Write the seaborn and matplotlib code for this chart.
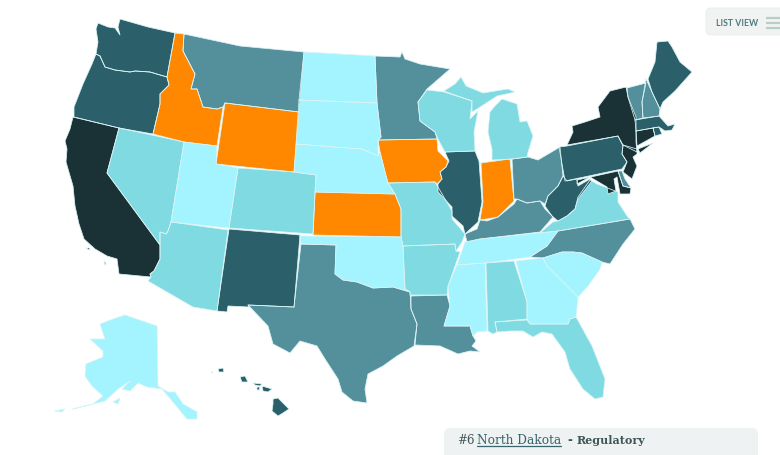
import matplotlib
matplotlib.use("Agg")
import matplotlib.pyplot as plt
from matplotlib.patches import FancyBboxPatch
import pandas as pd
import seaborn as sns

# State outlines (map units)
WA = [(98,24),(108,28),(115,29),(120,36),(118,28),(120,20),(148,28),(175,34),(167,78),(150,73),(135,72),(130,73),(115,71),(105,68),(100,57),(96,55),(98,43),(96,30)]
OR = [(100,57),(105,68),(115,71),(130,73),(135,72),(150,73),(167,78),(169,86),(160,95),(160,105),(153,135),(119,129),(74,118),(74,108),(83,85),(92,65),(96,55)]
CA = [(73,118),(119,129),(107,174),(160,246),(160,260),(154,272),(150,275),(151,278),(119,275),(117,260),(107,257),(95,250),(84,240),(79,225),(75,207),(73,187),(66,163),(67,150),(65,142),(70,130)]
CA_ISLE_A = [(86,249),(90,249),(89,251)]
CA_ISLE_B = [(104,262),(106,264),(105,266)]
NV = [(119,129),(184,143),(171,223),(168,232),(166,235),(160,233),(160,246),(107,174)]
ID = [(175,34),(184,35),(183,52),(195,75),(191,90),(197,90),(203,108),(217,110),(223,108),(217,147),(184,143),(153,135),(160,105),(160,95),(169,86),(167,78)]
MT = [(184,35),(240,47),(304,53),(299,113),(225,104),(223,108),(217,110),(203,108),(197,90),(191,90),(195,75),(183,52)]
WY = [(225,104),(299,113),(294,173),(216,165)]
UT = [(184,143),(217,147),(216,165),(238,169),(229,229),(171,223)]
CO = [(238,169),(294,173),(316,176),(313,235),(229,229)]
AZ = [(171,223),(228,231),(217,312),(193,308),(148,282),(151,278),(150,275),(154,272),(160,260),(160,246),(160,233),(166,235),(168,232)]
NM = [(229,230),(300,236),(294,308),(248,306),(249,308),(228,307),(227,313),(217,312)]
ND = [(304,53),(375,57),(377,104),(299,101)]
SD = [(299,101),(377,104),(381,138),(378,141),(378,157),(362,150),(296,145)]
NE = [(296,145),(362,150),(378,157),(380,153),(385,173),(388,184),(395,195),(315,193),(316,176),(294,173)]
KS = [(315,193),(395,195),(401,210),(401,238),(313,236)]
OK = [(300,237),(401,238),(403,247),(405,290),(410,293),(393,288),(373,289),(357,283),(343,281),(335,275),(336,246),(301,245)]
TX = [(301,245),(336,246),(335,275),(343,281),(357,283),(373,289),(393,288),(410,293),(411,310),(417,325),(414,347),(397,357),(383,367),(368,375),(365,390),(367,404),(353,402),(342,393),(338,380),(325,360),(317,347),(300,342),(290,354),(273,345),(268,327),(248,306),(294,308)]
MN = [(375,57),(400,58),(402,53),(405,60),(420,65),(450,70),(427,90),(418,103),(420,122),(435,133),(437,140),(378,141),(381,138),(377,104)]
IA = [(378,141),(437,140),(438,152),(448,162),(446,168),(440,173),(442,180),(437,185),(435,183),(388,184),(385,173),(380,153)]
MO = [(388,184),(435,183),(438,188),(452,212),(452,220),(465,235),(462,243),(456,252),(455,245),(403,247),(401,238),(401,210),(395,195)]
AR = [(403,247),(455,245),(456,252),(460,253),(455,267),(448,287),(447,296),(410,296),(410,293),(405,290)]
LA = [(411,297),(447,296),(450,307),(444,327),(470,327),(473,337),(476,342),(472,347),(480,353),(470,352),(458,355),(440,347),(415,346),(417,325),(411,310)]
WI = [(418,103),(427,91),(444,93),(472,102),(470,120),(478,112),(474,133),(475,152),(445,153),(438,140),(435,133),(420,122)]
IL = [(445,153),(475,152),(479,162),(482,203),(478,223),(465,235),(463,227),(452,217),(452,208),(438,193),(438,185),(442,180),(440,173),(446,168),(449,162)]
IN = [(481,164),(510,160),(514,202),(498,218),(487,220),(480,221),(483,203)]
MI_LOWER = [(488,133),(490,113),(495,107),(502,100),(517,105),(520,123),(527,122),(533,137),(528,153),(527,158),(512,160),(492,161),(492,150)]
MI_UPPER = [(444,92),(455,85),(461,78),(466,87),(483,94),(508,90),(515,93),(497,97),(477,110),(472,113),(472,102)]
OH = [(512,160),(528,158),(538,161),(560,148),(563,177),(558,187),(548,197),(545,205),(540,202),(527,204),(517,200),(514,200)]
KY = [(467,243),(465,235),(477,230),(480,221),(487,222),(498,218),(514,205),(517,200),(527,204),(540,202),(545,210),(553,218),(540,233),(480,240)]
TN = [(465,243),(480,240),(558,232),(547,247),(530,258),(485,264),(457,266),(462,252)]
MS = [(457,266),(485,264),(487,332),(477,333),(473,337),(470,327),(444,327),(450,307),(448,287)]
AL = [(486,264),(514,262),(527,303),(527,320),(495,323),(497,333),(493,335),(488,332)]
GA = [(516,262),(543,259),(547,267),(578,298),(576,318),(570,320),(568,325),(530,325),(527,320),(527,303)]
FL = [(495,323),(527,321),(530,325),(568,325),(570,320),(576,318),(592,347),(605,380),(603,398),(595,400),(583,390),(570,370),(565,353),(552,335),(542,333),(533,338),(523,332),(510,332),(497,333)]
SC = [(543,259),(562,253),(573,253),(582,254),(602,263),(600,270),(588,287),(578,298),(547,267)]
NC = [(530,258),(547,247),(558,232),(630,220),(635,230),(623,245),(610,265),(602,263),(582,254),(573,253),(562,253),(543,259)]
VA = [(540,234),(553,223),(558,222),(567,217),(575,210),(578,198),(590,181),(597,185),(618,193),(618,203),(627,217),(630,220),(558,232)]
WV = [(563,177),(567,182),(577,180),(578,187),(590,180),(592,182),(578,200),(575,210),(567,217),(558,222),(552,217),(545,207),(548,197),(558,187)]
PA = [(559,148),(567,147),(618,137),(623,147),(622,155),(627,163),(622,170),(565,182)]
NY = [(626,88),(628,98),(636,118),(636,143),(637,153),(623,146),(618,137),(567,146),(573,133),(572,127),(585,123),(600,118),(598,108),(610,92)]
NY_LI = [(638,150),(653,144),(640,154)]
NJ = [(623,146),(637,150),(637,155),(633,158),(637,167),(632,180),(623,173),(627,163),(622,155)]
MD = [(577,181),(618,172),(623,187),(631,189),(630,195),(620,195),(617,178),(614,180),(616,192),(608,195),(607,188),(590,178),(577,185)]
DE = [(618,172),(622,172),(625,180),(631,189),(623,187)]
CT = [(636,132),(653,129),(655,137),(637,147)]
RI = [(653,129),(659,128),(662,135),(655,137)]
MA = [(635,121),(659,117),(668,127),(675,125),(672,131),(665,132),(659,128),(653,129),(636,132)]
VT = [(627,89),(646,84),(642,103),(643,119),(635,121),(628,98)]
NH = [(646,80),(652,93),(660,110),(659,117),(643,119),(642,103)]
ME = [(657,43),(668,42),(672,48),(680,63),(692,73),(675,92),(663,103),(660,110),(652,93),(648,80),(655,63)]
AK = [(125,316),(157,327),(158,387),(168,393),(175,393),(183,405),(197,413),(197,420),(187,420),(173,403),(162,390),(147,388),(138,384),(130,392),(122,390),(130,382),(118,390),(105,402),(73,410),(93,405),(103,397),(92,387),(85,377),(86,365),(103,358),(103,352),(90,340),(105,340),(100,325),(113,320)]
AK_KODIAK = [(113,403),(120,399),(118,405)]
AK_ALEUT = [(55,412),(65,410),(62,413)]
HI_BIG = [(273,400),(278,399),(283,404),(289,410),(283,414),(278,417),(272,412),(273,405)]
HI_MAUI = [(262,387),(272,390),(268,393),(263,392)]
HI_OAHU = [(240,378),(245,377),(248,383),(242,383)]
HI_KAUAI = [(218,370),(223,369),(224,373),(219,373)]
HI_MOLOKAI = [(253,384),(262,385),(260,387),(255,386)]
HI_LANAI = [(257,388),(260,388),(259,391),(257,391)]
HI_NIIHAU = [(211,373),(213,373),(212,374)]

# Rank groups of the choropleth
tier_lightest = [ND, SD, NE, UT, OK, TN, MS, GA, SC, AK, AK_KODIAK, AK_ALEUT]
tier_light = [NV, AZ, CO, MO, AR, WI, MI_LOWER, MI_UPPER, AL, FL, VA]
tier_mid = [MT, MN, TX, LA, OH, KY, NC, VT, NH, DE]
tier_dark = [WA, OR, NM, IL, PA, WV, ME, MA, RI, HI_BIG, HI_MAUI, HI_OAHU, HI_KAUAI, HI_MOLOKAI, HI_LANAI, HI_NIIHAU]
tier_darkest = [CA, CA_ISLE_A, CA_ISLE_B, NY, NY_LI, NJ, CT, MD]
tier_orange = [ID, WY, KS, IA, IN]
tier_colours = ["#a3f4fe", "#7fdae2", "#54909c", "#2b5f69", "#1a3236", "#ff8800"]
tiers = [tier_lightest, tier_light, tier_mid, tier_dark, tier_darkest, tier_orange]

list_label = "LIST VIEW"
card_rank = "#6"
card_state = "North Dakota"
card_dash = "-"
card_rest = "Regulatory"

sns.set_theme(style="white")
palette = sns.color_palette(tier_colours)

fig = plt.figure(figsize=(7.8, 4.56), dpi=100, facecolor="white")
ax = fig.add_axes([0, 0, 1, 1])

rows = []
uid = 0
for tier, colour in zip(tiers, palette):
    for shape in tier:
        xs, ys = zip(*shape)
        ax.fill(xs, ys, color=colour, lw=0, zorder=2)
        for x, y in list(shape) + [shape[0]]:
            rows.append({"x": x, "y": y, "shape": uid})
        uid += 1
borders = pd.DataFrame(rows)
sns.lineplot(data=borders, x="x", y="y", units="shape", estimator=None, sort=False,
             color="#d8f3f5", lw=0.55, ax=ax, zorder=3, legend=False)
ax.set_xlim(0, 780)
ax.set_ylim(456, 0)
ax.axis("off")

# List-view button
ax.add_patch(FancyBboxPatch((706, 9), 95, 27, boxstyle="round,pad=0,rounding_size=5",
                            fc="#f1f3f3", ec="#e8ecec", lw=0.6, zorder=4))
ax.text(716, 23, list_label, fontsize=6.3, family="Lato", fontweight="bold", color="#4f7a80",
        va="center", ha="left", zorder=5)
for yy in (19, 24, 28.5):
    ax.plot([766, 780], [yy, yy], color="#bccdc6", lw=1.6, zorder=5, solid_capstyle="butt")

# Detail card
ax.add_patch(FancyBboxPatch((444, 429), 314, 40, boxstyle="round,pad=0,rounding_size=6",
                            fc="#eff2f2", ec="none", zorder=4))
ax.text(457, 441, card_rank, fontsize=8.6, family="DejaVu Serif", color="#3f5559", va="center", zorder=5)
ax.text(477, 441, card_state, fontsize=8.7, family="DejaVu Serif", color="#37666d", va="center", zorder=5)
ax.plot([477, 561], [447.5, 447.5], color="#37666d", lw=0.9, zorder=5)
ax.text(567, 441, card_dash, fontsize=8.6, family="DejaVu Serif", fontweight="bold", color="#3f5559", va="center", zorder=5)
ax.text(577, 441, card_rest, fontsize=8.0, family="DejaVu Serif", fontweight="bold", color="#3f5559", va="center", zorder=5)

fig.savefig("out.png", dpi=100, facecolor="white")
